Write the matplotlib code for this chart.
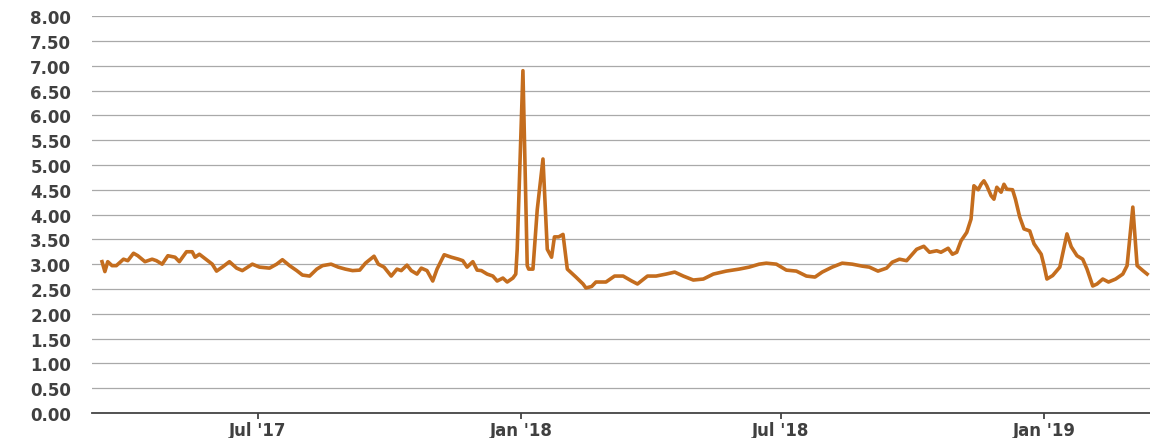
#Daily series, Mar 2017 - Mar 2019
#

import matplotlib
matplotlib.use('Agg')
import matplotlib.pyplot as plt
import matplotlib.dates as mdates
import numpy as np

plt.rcParams['font.family'] = ['DejaVu Sans']

# days counted from 1 Jul 2017
day = [-109, -107, -105, -102, -99, -94, -91, -87, -84, -79, -74, -71, -67, -63,
       -58, -55, -50, -46, -44, -41, -36, -32, -29, -25, -20, -15, -11, -4,
       1, 8, 13, 17, 22, 27, 31, 36, 41, 45, 51, 56, 61, 66, 71, 75, 78, 81,
       84, 88, 93, 97, 100, 104, 107, 111, 114, 118, 122, 125, 130, 135, 140,
       143, 146, 150, 153, 156, 160, 164, 167, 171, 174, 178, 180, 181, 185,
       188, 189, 192, 195, 199, 202, 205, 207, 210, 213, 216, 219, 222, 227,
       229, 233, 236, 243, 249, 255, 261, 265, 272, 278, 285, 291, 297, 304,
       311, 318, 327, 336, 343, 350, 355, 362, 369, 376, 383, 389, 394, 401,
       408, 415, 422, 427, 433, 439, 443, 448, 453, 457, 460, 465, 469, 474,
       477, 482, 485, 488, 491, 495, 498, 500, 503, 505, 507, 509, 512, 514,
       516, 519, 521, 523, 527, 529, 532, 535, 539, 542, 547, 549, 551, 555,
       560, 565, 568, 572, 576, 579, 583, 586, 590, 594, 599, 604, 607, 611,
       614, 618, 621]
val = [3.05, 2.85, 3.05, 2.97, 2.97, 3.10, 3.07, 3.22, 3.17, 3.05, 3.10, 3.07, 3.00, 3.17,
       3.14, 3.05, 3.25, 3.25, 3.14, 3.20, 3.09, 3.00, 2.86, 2.94, 3.05, 2.92, 2.87, 3.00,
       2.94, 2.92, 3.00, 3.09, 2.97, 2.87, 2.78, 2.76, 2.90, 2.97, 3.00, 2.94, 2.90, 2.87,
       2.88, 3.02, 3.09, 3.16, 3.00, 2.94, 2.76, 2.90, 2.87, 2.98, 2.87, 2.80, 2.92, 2.87,
       2.66, 2.90, 3.19, 3.14, 3.10, 3.07, 2.94, 3.05, 2.88, 2.87, 2.80, 2.76, 2.66, 2.72,
       2.64, 2.72, 2.80, 3.30, 6.90, 2.97, 2.90, 2.90, 4.10, 5.12, 3.30, 3.14, 3.55, 3.55,
       3.60, 2.90, 2.82, 2.74, 2.60, 2.52, 2.55, 2.64, 2.64, 2.76, 2.76, 2.66, 2.60, 2.76,
       2.76, 2.80, 2.84, 2.76, 2.68, 2.70, 2.80, 2.86, 2.90, 2.94, 3.00, 3.02, 3.00, 2.88,
       2.86, 2.76, 2.74, 2.84, 2.94, 3.02, 3.00, 2.96, 2.94, 2.86, 2.92, 3.04, 3.10, 3.07,
       3.20, 3.30, 3.36, 3.24, 3.27, 3.24, 3.32, 3.20, 3.24, 3.47, 3.64, 3.91, 4.58, 4.50,
       4.61, 4.68, 4.58, 4.38, 4.31, 4.55, 4.45, 4.61, 4.51, 4.50, 4.31, 3.95, 3.71, 3.67,
       3.41, 3.20, 2.97, 2.70, 2.77, 2.94, 3.61, 3.35, 3.17, 3.10, 2.90, 2.56, 2.60, 2.70,
       2.64, 2.70, 2.80, 2.97, 4.15, 2.97, 2.87, 2.80]

yticks = np.arange(0, 8.01, 0.5)
xticks = ['2017-07-01', '2018-01-01', '2018-07-01', '2019-01-01']

dates = np.datetime64('2017-07-01') + np.array(day).astype('timedelta64[D]')

fig = plt.figure(figsize=(11.5, 4.39), dpi=100)
ax = fig.add_axes([0.08, 0.057, 0.92, 0.904])

ax.plot(dates, val, color='#c46d1e', linewidth=2.6, solid_joinstyle='round')

ax.set_ylim(0, 8)
ax.set_yticks(yticks)
ax.set_yticklabels(['%.2f' % v for v in yticks])
ax.yaxis.grid(True, color='#a9a9a9', linewidth=0.9)
ax.set_axisbelow(True)

ax.set_xlim(np.datetime64('2017-07-01') - np.timedelta64(116, 'D'),
            np.datetime64('2017-07-01') + np.timedelta64(623, 'D'))
ax.set_xticks([np.datetime64(d) for d in xticks])
ax.xaxis.set_major_formatter(mdates.DateFormatter("%b '%y"))

for s in ['top', 'right', 'left']:
    ax.spines[s].set_visible(False)
ax.spines['bottom'].set_color('#444444')
ax.spines['bottom'].set_linewidth(1.3)

ax.tick_params(axis='y', length=0, pad=15, labelsize=12, labelcolor='#404040')
ax.tick_params(axis='x', length=4, width=1.2, color='#333333', pad=2,
               labelsize=12, labelcolor='#404040')
for lab in ax.get_xticklabels() + ax.get_yticklabels():
    lab.set_fontweight('bold')

plt.savefig('out.png', dpi=100)
